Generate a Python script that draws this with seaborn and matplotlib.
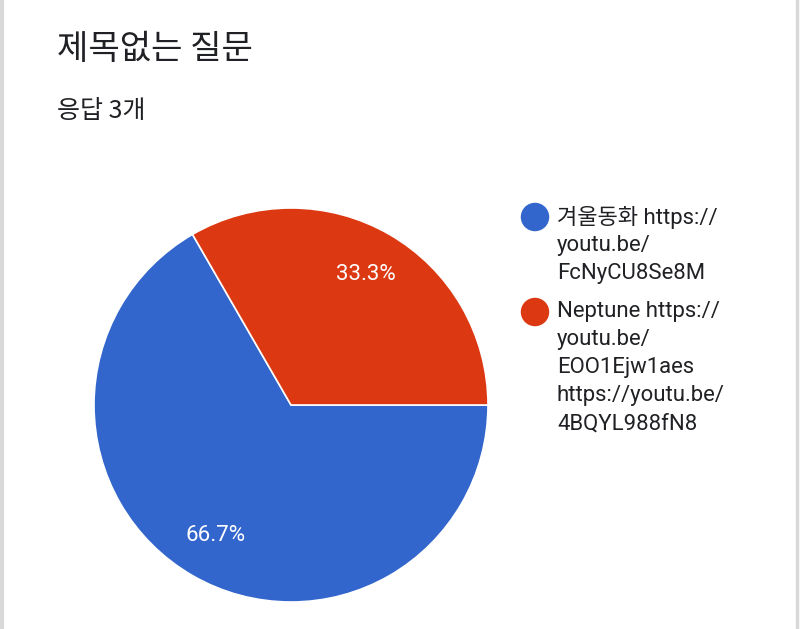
import matplotlib
matplotlib.use("Agg")
import matplotlib.pyplot as plt
import seaborn as sns

sns.set_theme(style="white")
plt.rcParams['font.family'] = ['Roboto', 'Noto Sans CJK KR', 'DejaVu Sans']

title = "제목없는 질문"
subtitle = "응답 3개"
labels = ["겨울동화 https://youtu.be/FcNyCU8Se8M",
          "Neptune https://youtu.be/EOO1Ejw1aes https://youtu.be/4BQYL988fN8"]
legend_lines = [["겨울동화 https://", "youtu.be/", "FcNyCU8Se8M"],
                ["Neptune https://", "youtu.be/", "EOO1Ejw1aes", "https://youtu.be/", "4BQYL988fN8"]]
values = [2, 1]
colors = ["#3366CC", "#DC3912"]

W, H = 800, 629
fig = plt.figure(figsize=(W / 100, H / 100), dpi=100)
fig.patch.set_facecolor("white")

# pie axes: center (291,405), radius 197 px
cx, cy, r = 291, 405, 197
ax = fig.add_axes([(cx - r) / W, (H - (cy + r)) / H, 2 * r / W, 2 * r / H])
wedges, texts, autotexts = ax.pie(
    values, colors=colors, startangle=0, counterclock=False,
    autopct="%1.1f%%", pctdistance=0.765,
    wedgeprops=dict(edgecolor="white", linewidth=1.2),
    textprops=dict(color="white", fontsize=16, family=['Roboto', 'Noto Sans CJK KR']))
ax.set_xlim(-1, 1)
ax.set_ylim(-1, 1)
ax.set_aspect("equal")
ax.axis("off")

# overlay axes in pixel coords
ov = fig.add_axes([0, 0, 1, 1], zorder=-1)
ov.set_xlim(0, W)
ov.set_ylim(H, 0)
ov.axis("off")
ov.text(57, 49, title, fontsize=24.6, color="#202124", va="center", ha="left",
        family=['Noto Sans CJK KR'])
ov.text(57, 111, subtitle, fontsize=18, color="#202124", va="center", ha="left",
        family=['Noto Sans CJK KR'])

ov2 = fig.add_axes([0, 0, 1, 1])
ov2.set_xlim(0, W)
ov2.set_ylim(H, 0)
ov2.axis("off")
ov2.patch.set_alpha(0)
starts = [217, 312]
for lines, y0, col in zip(legend_lines, starts, colors):
    ov2.scatter([535], [y0], s=420, color=col, edgecolor="none")
    for i, line in enumerate(lines):
        ov2.text(557, y0 + i * 28, line, fontsize=15.9, color="#202124",
                 va="center", ha="left", family=['Roboto', 'Noto Sans CJK KR'])

# card borders
ov2.plot([1.5, 1.5], [0, H], color="#d9d9d9", lw=3)
ov2.plot([797, 797], [0, H], color="#d9d9d9", lw=2.5)

fig.savefig("out.png", dpi=100, facecolor="white")
